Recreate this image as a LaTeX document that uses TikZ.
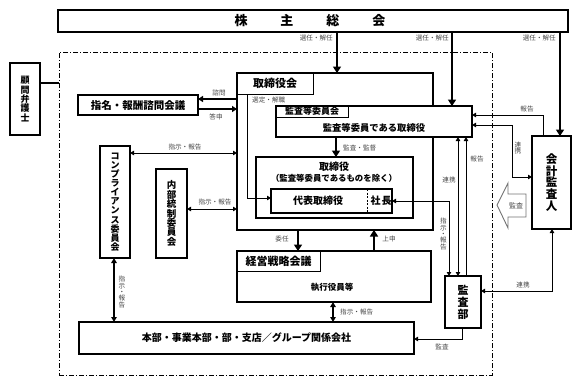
\documentclass[tikz,border=0pt]{standalone}
\usepackage{fontspec}
\setmainfont{Noto Sans CJK JP}
\usetikzlibrary{arrows.meta}
\tikzset{
  box/.style={draw, line width=1.1pt, inner sep=0pt, outer sep=0pt, fill=white},
  tbox/.style={draw, line width=2.4pt, inner sep=0pt, outer sep=0pt},
  txt/.style={inner sep=0pt, align=center},
  lbl/.style={font=\fontsize{6.6}{7}\selectfont, text=black!72, inner sep=0pt, align=center},
  cline/.style={line width=0.9pt},
  tarr/.style={cline, -{Triangle[length=4pt,width=4.5pt]}},
  tdarr/.style={cline, {Triangle[length=4pt,width=4.5pt]}-{Triangle[length=4pt,width=4.5pt]}},
  marr/.style={line width=1.6pt, -{Triangle[length=5pt,width=6pt]}},
  mdarr/.style={line width=1.4pt, {Triangle[length=5pt,width=5.5pt]}-{Triangle[length=5pt,width=5.5pt]}},
  karr/.style={line width=2.4pt, -{Triangle[length=6.5pt,width=8pt]}},
  dashdotframe/.style={draw, line width=1pt, dash pattern=on 5pt off 2pt on 1pt off 2pt, inner sep=0pt, outer sep=0pt}
}
\begin{document}
\begin{tikzpicture}[x=1pt,y=-1pt]
\useasboundingbox (0,0) rectangle (579,386);

% ---- boxes ----
\node[box, line width=1.3pt, minimum width=510, minimum height=22] (gm) at (313,21) {};
\node[txt, font=\fontsize{13}{13}\selectfont\bfseries] (gmt) at (310,21) {株\hspace{33pt}主\hspace{33pt}総\hspace{33pt}会};

\node[dashdotframe, minimum width=433, minimum height=323] (frame) at (275.5,213.5) {};

\node[box, minimum width=30, minimum height=72, align=center, font=\fontsize{9}{9.4}\selectfont\bfseries] (law) at (25,99) {顧\\問\\弁\\護\\士};

\node[box, minimum width=120, minimum height=20, font=\fontsize{10.5}{11}\selectfont\bfseries] (nomi) at (138,105) {指名・報酬諮問会議};

\node[tbox, minimum width=196, minimum height=157] (board) at (335,151.5) {};
\node[box, line width=1pt, minimum width=76, minimum height=21, font=\fontsize{11}{11}\selectfont\bfseries] (btab) at (275,83.5) {取締役会};

\node[box, minimum width=196, minimum height=31] (acb) at (374,121.5) {};
\node[box, line width=1pt, minimum width=72, minimum height=11, font=\fontsize{9}{9}\selectfont\bfseries] (acbtab) at (312,111.5) {監査等委員会};
\node[txt, font=\fontsize{9.3}{9.3}\selectfont\bfseries] (acbt) at (374,127.5) {監査等委員である取締役};

\node[box, minimum width=157, minimum height=61] (dir) at (334.5,187.5) {};
\node[txt, font=\fontsize{10}{10}\selectfont\bfseries] (dirt1) at (334,167) {取締役};
\node[txt, font=\fontsize{8.4}{8.4}\selectfont\bfseries] (dirt2) at (334,178.5) {（監査等委員であるものを除く）};

\node[box, minimum width=121, minimum height=24] (rep) at (331.5,201) {};
\coordinate (x367) at (367,0);
\draw[line width=1pt, dash pattern=on 2pt off 1.5pt] (rep.north -| x367) -- (rep.south -| x367);
\node[txt, font=\fontsize{10}{10}\selectfont\bfseries] (rept) at (318,201) {代表取締役};
\node[txt, font=\fontsize{10}{10}\selectfont\bfseries] (prest) at (381,201) {社\hspace{1pt}長};

\node[tbox, minimum width=194, minimum height=51] (mgmt) at (334,276.5) {};
\node[box, line width=1pt, minimum width=83, minimum height=20, font=\fontsize{11}{11}\selectfont\bfseries] (mtab) at (278.5,261) {経営戦略会議};
\node[txt, font=\fontsize{8.5}{8.5}\selectfont\bfseries] (mgmtt) at (332,287) {執行役員等};

\node[box, minimum width=335, minimum height=32, font=\fontsize{10}{10}\selectfont\bfseries] (hq) at (246.5,338) {本部・事業本部・部・支店／グループ関係会社};

\node[box, minimum width=30, minimum height=112, align=center, font=\fontsize{9}{9.1}\selectfont\bfseries] (comp) at (115,202) {コ\\ン\\プ\\ラ\\イ\\ア\\ン\\ス\\委\\員\\会};
\node[box, minimum width=31, minimum height=89, align=center, font=\fontsize{9.5}{9.4}\selectfont\bfseries] (naibu) at (171.5,213.5) {内\\部\\統\\制\\委\\員\\会};

\node[box, minimum width=39, minimum height=93, align=center, font=\fontsize{11.5}{11.8}\selectfont\bfseries] (kai) at (551.5,182.5) {会\\計\\監\\査\\人};
\node[box, minimum width=36, minimum height=52, align=center, font=\fontsize{11}{12}\selectfont\bfseries] (kansa) at (463,302) {監\\査\\部};

% ---- helper coordinates ----
\coordinate (xa) at (337,0); \coordinate (xb) at (452,0); \coordinate (xc) at (560,0);
\coordinate (y83) at (0,83); \coordinate (y99) at (0,99); \coordinate (y109) at (0,109);
\coordinate (x247) at (247,0); \coordinate (y198) at (0,198);
\coordinate (y153) at (0,153); \coordinate (y209) at (0,209);
\coordinate (x114) at (114,0); \coordinate (x336) at (336,0);
\coordinate (x298) at (298,0); \coordinate (x374) at (374,0); \coordinate (x333) at (333,0);
\coordinate (x449) at (449,0); \coordinate (x458) at (458,0); \coordinate (x466) at (466,0);
\coordinate (x543) at (543,0); \coordinate (y115) at (0,115); \coordinate (y125) at (0,125);
\coordinate (x512) at (512,0); \coordinate (y177) at (0,177);
\coordinate (x552) at (552,0); \coordinate (y291) at (0,291);
\coordinate (x462) at (462,0); \coordinate (y339) at (0,339);

% ---- connectors ----
\draw[karr] (gm.south -| xa) -- (board.north -| xa);
\draw[karr] (gm.south -| xb) -- (acb.north -| xb);
\draw[karr] (gm.south -| xc) -- (kai.north -| xc);
\node[lbl, anchor=east] at (333,38) {選任・解任};
\node[lbl, anchor=east] at (449,38) {選任・解任};
\node[lbl, anchor=east] at (556,38) {選任・解任};

\draw[line width=1.1pt] (law.east |- y83) -- (frame.west |- y83);

\draw[marr] (board.west |- y99) -- (nomi.east |- y99);
\draw[marr] (nomi.east |- y109) -- (board.west |- y109);
\node[lbl] at (219,93) {諮問};
\node[lbl] at (216,117) {答申};

\draw[tarr] (btab.south -| x247) |- (rep.west |- y198);
\node[lbl, anchor=west] at (252,100.5) {選定・解職};

\draw[tdarr] (comp.east |- y153) -- (board.west |- y153);
\node[lbl] at (185,147) {指示・報告};
\draw[tdarr] (naibu.east |- y209) -- (board.west |- y209);
\node[lbl] at (215,202) {指示・報告};

\draw[mdarr] (comp.south -| x114) -- (hq.north -| x114);
\node[lbl, font=\fontsize{6.6}{6.4}\selectfont] at (122,292) {指\\示\\・\\報\\告};

\draw[karr] (acb.south -| x336) -- (dir.north -| x336);
\node[lbl, anchor=west] at (343,147.5) {監査・監督};

\draw[karr] (board.south -| x298) -- (mgmt.north -| x298);
\draw[karr] (mgmt.north -| x374) -- (board.south -| x374);
\node[lbl] at (282,239) {委任};
\node[lbl] at (389,239) {上申};

\draw[mdarr] (mgmt.south -| x333) -- (hq.north -| x333);
\node[lbl, anchor=west] at (340,312) {指示・報告};

\draw[tdarr] (kansa.north -| x449) |- (rep.east);
\node[lbl, font=\fontsize{6.6}{6.4}\selectfont] at (443.5,234) {指\\示\\・\\報\\告};
\draw[tdarr] (kansa.north -| x458) -- (acb.south -| x458);
\node[lbl] at (449,180) {連携};
\draw[tarr] (kansa.north -| x466) -- (acb.south -| x466);
\node[lbl] at (477,159) {報告};

\draw[tarr] (kai.north -| x543) |- (acb.east |- y115);
\node[lbl] at (527,109) {報告};
\draw[tdarr] (acb.east |- y125) -| (x512 |- y177) -- (kai.west |- y177);
\node[lbl, font=\fontsize{6.6}{6.8}\selectfont] at (518,148) {連\\携};
\draw[tdarr] (kai.south -| x552) |- (kansa.east |- y291);
\node[lbl] at (523,285) {連携};
\draw[tarr] (kansa.south -| x462) |- (hq.east |- y339);
\node[lbl] at (442,347) {監査};

% hollow audit arrow
\draw[black!55, line width=0.9pt, fill=white] (497,205) -- (508,183) -- (508,194) -- (526,194) -- (526,217) -- (508,217) -- (508,228) -- cycle;
\node[lbl, font=\fontsize{7}{7}\selectfont] at (516,205.5) {監査};
\end{tikzpicture}
\end{document}
